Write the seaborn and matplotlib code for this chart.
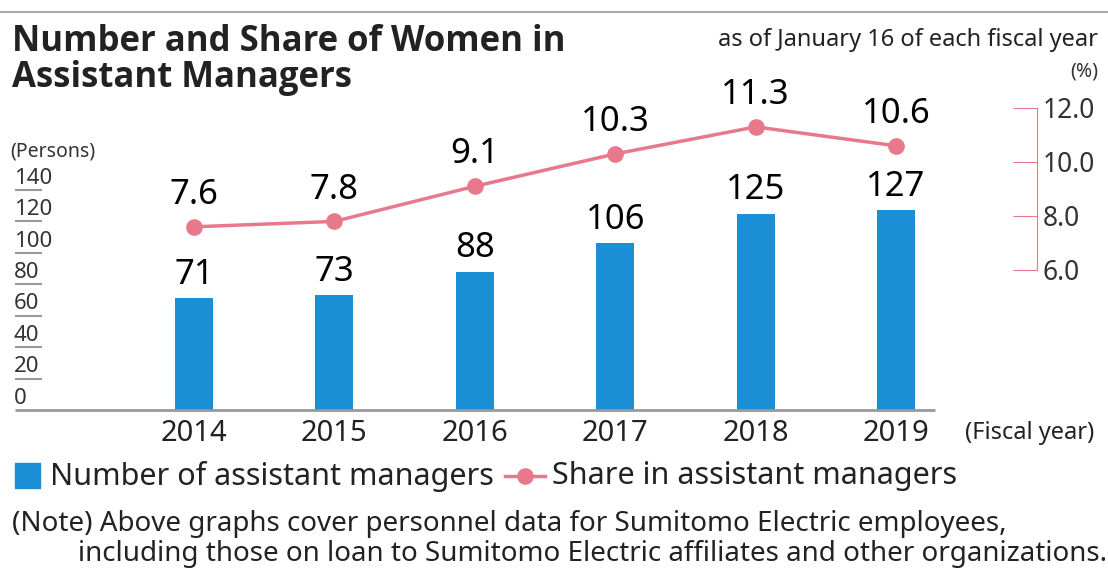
import numpy as np
import pandas as pd
import matplotlib
matplotlib.use("Agg")
import matplotlib.pyplot as plt
from matplotlib.lines import Line2D
from matplotlib.patches import Rectangle
import seaborn as sns

years = ["2014", "2015", "2016", "2017", "2018", "2019"]
persons = [71, 73, 88, 106, 125, 127]
share = [7.6, 7.8, 9.1, 10.3, 11.3, 10.6]
left_ticks = [0, 20, 40, 60, 80, 100, 120, 140]
right_ticks = [6.0, 8.0, 10.0, 12.0]

BLUE = "#1a8fd6"
PINK = "#e8788c"
plt.rcParams["font.family"] = "Noto Sans"

W, H = 1108, 583
fig = plt.figure(figsize=(W / 100, H / 100), dpi=100)

def fx(px):
    return px / W

def fy(py):
    return 1 - py / H

# axes placed in pixel coords: x 15..1000, y 410 (base) .. 60
ax_l, ax_r, ax_b, ax_t = 15, 1000, 410, 60
ax = fig.add_axes([fx(ax_l), fy(ax_b), fx(ax_r - ax_l), (ax_b - ax_t) / H])
ppu = 1.571  # pixels per person
ax.set_ylim(0, (ax_b - ax_t) / ppu)
x0, dx = 194, 140.4

df = pd.DataFrame({"year": years, "persons": persons, "share": share, "pos": range(len(years))})
sns.barplot(data=df, x="pos", y="persons", color=BLUE, width=38 / dx, saturation=1,
            ax=ax, native_scale=True)
ax.set_xlim((ax_l - x0) / dx, (ax_r - x0) / dx)
for p, v in zip(df["pos"], persons):
    ax.text(p, v + 4, str(v), ha="center", va="bottom", fontsize=25)
ax.hlines(0, ax.get_xlim()[0], (935 - x0) / dx, color="#999999", lw=2, clip_on=False)

for sp in ax.spines.values():
    sp.set_visible(False)
ax.set_xticks([])
ax.set_yticks([])
ax.set_xlabel("")
ax.set_ylabel("")
for t in left_ticks:
    if t > 0:
        ax.hlines(t, ax.get_xlim()[0], (42 - x0) / dx, color="#999999", lw=1.5, clip_on=False)
    ax.text((14 - x0) / dx, t + 0.8, str(t), ha="left", va="bottom", fontsize=16, color="#333333")
ax.text((10 - x0) / dx, 158, "(Persons)", ha="left", va="bottom", fontsize=14, color="#333333")
for p, y in zip(df["pos"], years):
    ax.text(p, -6, y, ha="center", va="top", fontsize=21, color="#222222")
ax.text((965 - x0) / dx, -7, "(Fiscal year)", ha="left", va="top", fontsize=17, color="#222222")

# right axis
ax2 = ax.twinx()
ppp = 27.0  # pixels per percent
lo = 6 - (ax_b - 270) / ppp
ax2.set_ylim(lo, lo + (ax_b - ax_t) / ppp)
sns.lineplot(data=df, x="pos", y="share", color=PINK, lw=2.5, marker="o", markersize=12,
             markeredgewidth=0, ax=ax2)
for p, v in zip(df["pos"], share):
    ax2.text(p, v + 0.55, f"{v:.1f}", ha="center", va="bottom", fontsize=25)
for s in ["left", "top", "bottom"]:
    ax2.spines[s].set_visible(False)
ax2.spines["right"].set_position(("axes", (1037 - ax_l) / (ax_r - ax_l)))
ax2.spines["right"].set_color(PINK)
ax2.spines["right"].set_bounds(6, 12)
ax2.set_yticks(right_ticks)
ax2.set_yticklabels([f"{t:.1f}" for t in right_ticks])
ax2.tick_params(axis="y", direction="in", length=17, color=PINK, pad=4, labelsize=19,
                labelcolor="#333333")
ax2.set_ylabel("")
ax2.set_xlabel("")
ax2.text(1.1, 13.0, "(%)", transform=ax2.get_yaxis_transform(), ha="right", va="bottom",
         fontsize=14, color="#333333")

# header
fig.add_artist(Line2D([fx(0), fx(W)], [fy(12), fy(12)], color="#aaaaaa", lw=1.5))
fig.text(fx(12), fy(24), "Number and Share of Women in\nAssistant Managers", ha="left", va="top",
         fontsize=25, fontweight="bold", fontfamily="Open Sans", color="#222222", linespacing=1.0)
fig.text(fx(1098), fy(52), "as of January 16 of each fiscal year", ha="right", va="bottom",
         fontsize=17, color="#222222")

# legend
fig.add_artist(Rectangle((fx(15), fy(488)), fx(25), 25 / H, color=BLUE))
fig.text(fx(50), fy(476), "Number of assistant managers", va="center", fontsize=22, color="#222222")
fig.add_artist(Line2D([fx(505), fx(545)], [fy(476), fy(476)], color=PINK, lw=2.5))
fig.add_artist(Line2D([fx(525)], [fy(476)], color=PINK, marker="o", markersize=12, markeredgewidth=0))
fig.text(fx(552), fy(476), "Share in assistant managers", va="center", fontsize=22, color="#222222")

# note
fig.text(fx(12), fy(524), "(Note) Above graphs cover personnel data for Sumitomo Electric employees,",
         va="center", fontsize=20, color="#222222")
fig.text(fx(78), fy(554), "including those on loan to Sumitomo Electric affiliates and other organizations.",
         va="center", fontsize=20, color="#222222")

fig.savefig("out.png", dpi=100)
